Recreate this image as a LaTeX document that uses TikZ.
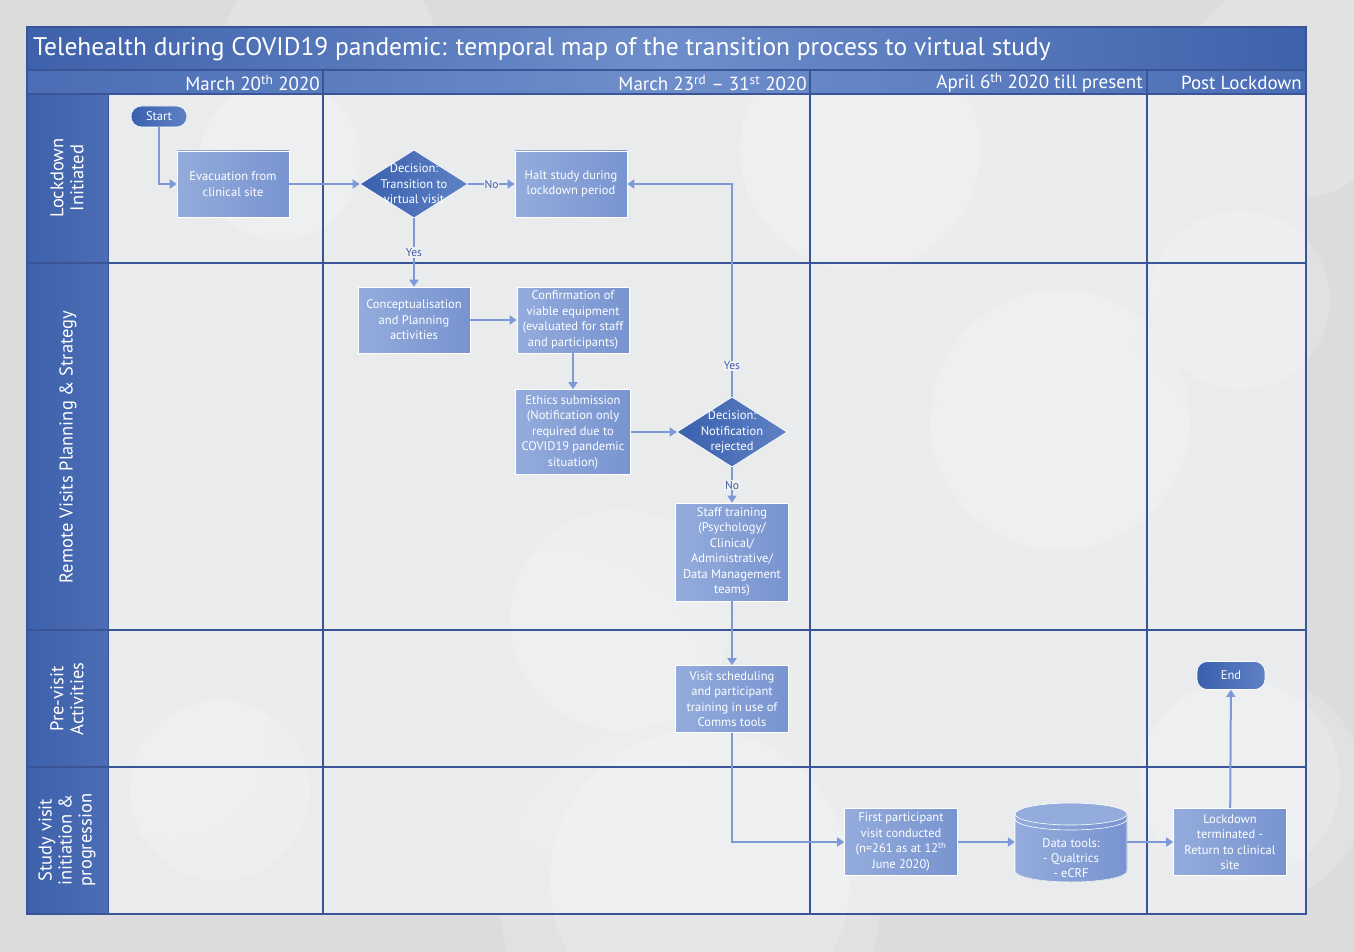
\documentclass[tikz,border=0pt]{standalone}
\usepackage{fontspec}
\setmainfont{PT Sans}
\usetikzlibrary{arrows.meta,shapes.geometric}
\definecolor{bar}{HTML}{4A6DB5}
\definecolor{barlight}{HTML}{6E8ECB}
\definecolor{bardark}{HTML}{3E61AB}
\definecolor{gridc}{HTML}{3A5597}
\definecolor{boxA}{HTML}{94ACDC}
\definecolor{boxB}{HTML}{7894D0}
\definecolor{diaA}{HTML}{3A60AE}
\definecolor{diaB}{HTML}{5F82C5}
\definecolor{conn}{HTML}{7E9AD6}
\definecolor{lbl}{HTML}{3D5EA8}
\definecolor{pagebg}{HTML}{DCDCDD}
\definecolor{cellbg}{HTML}{EEEFF1}
\newcommand\myfs[2]{\fontsize{#1}{#2}\selectfont}
\begin{document}
\begin{tikzpicture}[x=1pt,y=-1pt,
  box/.style={draw=white, line width=0.6pt, left color=boxA, right color=boxB, text=white,
    align=center, inner sep=1pt, font=\myfs{12.5}{15.5}, minimum width=112, minimum height=66},
  dec/.style={shape=diamond, draw=white, line width=0.6pt, left color=diaA, right color=diaB,
    minimum width=108, minimum height=68, inner sep=0pt},
  dectext/.style={text=white, align=center, font=\myfs{12.5}{15.5}},
  term/.style={draw=white, line width=0.6pt, left color=diaA, right color=diaB, text=white,
    rounded corners=10.5, font=\myfs{12.5}{14}, inner sep=0pt},
  conn/.style={draw=conn, line width=2pt, -{Triangle[width=9pt,length=7pt]}},
  yn/.style={fill=cellbg, text=lbl, font=\myfs{11.5}{12}, inner sep=1pt},
  hdr/.style={text=white, font=\myfs{19}{20}, anchor=east, inner sep=0pt},
  lane/.style={text=white, font=\myfs{18.5}{20}, rotate=90, align=center, inner sep=0pt},
  gl/.style={draw=gridc, line width=1.4pt}
]
\useasboundingbox (0,0) rectangle (1354,952);
\fill[pagebg] (0,0) rectangle (1354,952);
% faint background circles
\begin{scope}
\fill[white,opacity=0.18] (330,60) circle (110);
\fill[white,opacity=0.18] (1000,240) circle (170);
\fill[white,opacity=0.18] (1290,90) circle (110);
\fill[white,opacity=0.15] (560,700) circle (150);
\fill[white,opacity=0.15] (690,900) circle (190);
\fill[white,opacity=0.15] (1250,790) circle (115);
\fill[white,opacity=0.15] (170,740) circle (100);
\fill[white,opacity=0.15] (1060,470) circle (140);
\end{scope}
\fill[cellbg,opacity=0.8] (108,94) rectangle (1306,914);
\begin{scope}
\fill[white,opacity=0.2] (280,160) circle (80);
\fill[white,opacity=0.2] (860,150) circle (120);
\fill[white,opacity=0.18] (1060,420) circle (130);
\fill[white,opacity=0.18] (620,620) circle (110);
\fill[white,opacity=0.18] (700,880) circle (150);
\fill[white,opacity=0.18] (1240,780) circle (100);
\fill[white,opacity=0.16] (220,790) circle (90);
\fill[white,opacity=0.16] (1240,300) circle (90);
\end{scope}
% title bar and header row
\shade[left color=bardark, right color=bardark, middle color=barlight] (27,27) rectangle (1306,70);
\shade[left color=bar, right color=bar, middle color=barlight] (27,70) rectangle (1306,94);
% lane label column
\shade[left color=bardark, right color=bar] (27,94) rectangle (108,914);
% grid lines
\draw[gl] (27,70) -- (1306,70);
\draw[gl] (27,94) -- (1306,94);
\draw[gl] (27,263) -- (1306,263);
\draw[gl] (27,630) -- (1306,630);
\draw[gl] (27,767) -- (1306,767);
\draw[gl] (323,70) -- (323,914);
\draw[gl] (810,70) -- (810,914);
\draw[gl] (1147,70) -- (1147,914);
\draw[gridc, line width=0.6pt] (108,94) -- (108,914);
\draw[gl] (27,27) rectangle (1306,914);
% texts of frame
\node[text=white, font=\myfs{25.5}{27}, anchor=west, inner sep=0pt] (title) at (33,49)
  {Telehealth during COVID19 pandemic: temporal map of the transition process to virtual study};
\node[hdr] (h1) at (320,83) {March 20\textsuperscript{th} 2020};
\node[hdr] (h2) at (807,83) {March 23\textsuperscript{rd} – 31\textsuperscript{st} 2020};
\node[hdr] (h3) at (1143,83) {April 6\textsuperscript{th} 2020 till present};
\node[hdr] (h4) at (1302,83) {Post Lockdown};
\node[lane] (l1) at (67,178) {Lockdown\\Initiated};
\node[lane] (l2) at (68,447) {Remote Visits Planning \& Strategy};
\node[lane] (l3) at (67,699) {Pre-visit\\Activities};
\node[lane] (l4) at (67,840) {Study visit\\initiation \&\\progression};
% nodes
\node[term, minimum width=56, minimum height=21] (start) at (159,116.5) {Start};
\node[box] (evac) at (233,184) {Evacuation from\\clinical site};
\node[dec, label={[dectext]center:{Decision:\\Transition to\\virtual visit}}] (d1) at (414,184) {};
\node[box] (halt) at (571,184) {Halt study during\\lockdown period};
\node[box] (concept) at (414,320) {Conceptualisation\\and Planning\\activities};
\node[box] (confirm) at (573,320) {Confirmation of\\viable equipment\\(evaluated for staff\\and participants)};
\node[box, minimum width=115, minimum height=85] (ethics) at (573,432) {Ethics submission\\(Notification only\\required due to\\COVID19 pandemic\\situation)};
\node[dec, minimum width=110, minimum height=70, label={[dectext]center:{Decision:\\Notification\\rejected}}] (d2) at (732,432) {};
\node[box, minimum width=113, minimum height=98] (staff) at (732,552) {Staff training\\(Psychology/\\Clinical/\\Administrative/\\Data Management\\teams)};
\node[box, minimum width=113, minimum height=67] (visit) at (732,699) {Visit scheduling\\and participant\\training in use of\\Comms tools};
\node[box, minimum width=113, minimum height=67] (first) at (901,842) {First participant\\visit conducted\\(n=261 as at 12\textsuperscript{th}\\June 2020)};
% data tools cylinder
\fill[left color=boxA, right color=boxB] (1015,814) -- (1015,871)
  arc[start angle=180, end angle=0, x radius=56, y radius=11] -- (1127,814) -- cycle;
\draw[white, line width=0.6pt] (1015,814) -- (1015,871)
  arc[start angle=180, end angle=0, x radius=56, y radius=11] -- (1127,814);
\fill[boxA] (1071,814) ellipse[x radius=56, y radius=11];
\draw[white, line width=0.6pt] (1071,814) ellipse[x radius=56, y radius=11];
\draw[white, line width=0.6pt] (1015,819) arc[start angle=180, end angle=0, x radius=56, y radius=11];
\node[minimum width=112, minimum height=79, inner sep=0pt] (dt) at (1071,842) {};
\node[text=white, align=center, font=\myfs{12.5}{15}] (dttext) at (1071,858) {Data tools:\\- Qualtrics\\- eCRF};
\node[box, minimum width=113, minimum height=67] (lockend) at (1230,842) {Lockdown\\terminated -\\Return to clinical\\site};
\node[term, minimum width=68, minimum height=28] (end) at (1231,675.5) {End};
% connectors
\draw[conn] (start.south) |- (evac.west);
\draw[conn] (evac) -- (d1);
\draw[conn] (d1) -- node[yn]{No} (halt);
\draw[conn] (d1) -- node[yn, pos=0.5]{Yes} (concept);
\draw[conn] (concept) -- (confirm);
\draw[conn] (confirm) -- (ethics);
\draw[conn] (ethics) -- (d2);
\draw[conn] (d2.north) |- node[yn, pos=0.073]{Yes} (halt.east);
\draw[conn] (d2) -- node[yn]{No} (staff);
\draw[conn] (staff) -- (visit);
\draw[conn] (visit.south) |- (first.west);
\draw[conn] (first) -- (dt);
\draw[conn] (dt) -- (lockend);
\draw[conn] (lockend) -- (end);
\end{tikzpicture}
\end{document}
